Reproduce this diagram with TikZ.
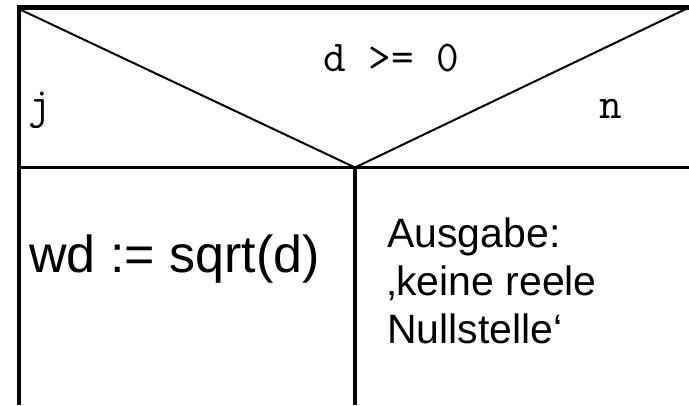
\documentclass[tikz,border=0pt]{standalone}
\usepackage{fontspec}
\setmainfont{Liberation Sans}
\begin{document}
\begin{tikzpicture}[x=1pt,y=1pt,
  cond/.style={font=\fontsize{44}{44}\selectfont\ttfamily,anchor=base},
  stmt/.style={font=\fontsize{52}{52}\selectfont,anchor=base west,inner sep=0pt},
  outtext/.style={font=\fontsize{41}{48}\selectfont,anchor=north west,align=left,inner sep=0pt}]
\useasboundingbox (0,0) rectangle (689,405);
% head of the decision: frame and the two diagonals
\draw [line width=5pt] (16.5,397.5) -- (689,397.5);
\draw [line width=4.3pt] (18.8,397.5) -- (18.8,0);
\draw [line width=2pt] (19,396) -- (355,237.5) -- (688,397);
% split into the two branches
\draw [line width=3.4pt] (18.8,237.5) -- (355,237.5);
\draw [line width=2.4pt] (355,237.5) -- (689,237.5);
\draw [line width=3.6pt] (355,237.5) -- (355,0);
% labels
\node[cond] (test) at (391,333) {d >= 0};
\node[cond] (yes) at (40,286) {j};
\node[cond] (no) at (611,286) {n};
\node[stmt] (wd) at (29,132) {wd := sqrt(d)};
\node[outtext] (msg) at (387,187) {Ausgabe:\\‚keine reele\\Nullstelle‘};
\end{tikzpicture}
\end{document}
